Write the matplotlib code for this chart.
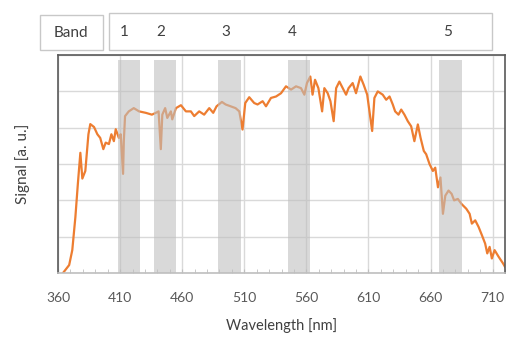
import matplotlib.pyplot as plt
from matplotlib.patches import Rectangle
from matplotlib.ticker import MultipleLocator, FixedLocator
import matplotlib.transforms as mtransforms

plt.rcParams['font.family'] = ['Lato', 'DejaVu Sans']

# spectrum (nm, arbitrary units)
wavelength = [364, 369, 371.5, 374, 376, 378, 379.6, 382, 384.5, 386, 389, 391.7, 394,
              396.5, 398.4, 401, 403, 405, 406.5, 409, 410.5, 412.4, 413, 414, 417, 421,
              425.3, 430.7, 435.6, 438.8, 441, 442.8, 444, 446.3, 448, 450.9, 452, 455,
              459, 463, 467, 469.7, 473.7, 477.7, 481.8, 485, 487.7, 492, 495, 499, 503,
              506, 508.6, 510.8, 514, 518, 520.7, 524.8, 527.5, 531.5, 535.6, 539.6,
              543.6, 547.7, 551.7, 555.7, 558.4, 560.5, 563.2, 565, 567, 569.7, 572.7,
              574.5, 577.2, 579.4, 582, 584, 586.6, 589.3, 592, 594, 597.3, 600, 603.5,
              606.2, 609, 613, 614.8, 617.5, 621.5, 624.3, 627, 629.6, 631.5, 634.2,
              636.4, 639, 641.7, 644.4, 647, 649.8, 652, 654.6, 656.5, 659.2, 661.9,
              663.8, 666, 668, 670, 671.9, 674.5, 677, 679, 682, 685, 688.8, 691.5,
              693.3, 696, 698.7, 701.4, 704, 705.7, 707.6, 709.4, 711.6, 714.8, 718.3, 720]
signal = [0.0, 0.22, 0.63, 1.54, 2.46, 3.31, 2.60, 2.81, 3.82, 4.10, 4.02, 3.82, 3.72,
          3.41, 3.59, 3.55, 3.82, 3.63, 3.96, 3.72, 3.82, 2.73, 3.63, 4.32, 4.45, 4.54,
          4.45, 4.41, 4.36, 4.41, 4.45, 3.41, 4.36, 4.54, 4.27, 4.45, 4.23, 4.54,
          4.62, 4.45, 4.45, 4.32, 4.45, 4.36, 4.54, 4.41, 4.59, 4.71, 4.64, 4.59, 4.54,
          4.45, 3.95, 4.68, 4.84, 4.68, 4.64, 4.73, 4.59, 4.82, 4.86, 4.95,
          5.14, 5.05, 5.14, 5.09, 4.91, 5.23, 5.41, 4.91, 5.32, 5.09, 4.45,
          5.09, 4.95, 4.73, 4.18, 5.09, 5.27, 5.09, 4.91, 5.09, 5.23, 4.95, 5.41,
          5.18, 4.91, 3.91, 4.82, 5.00, 4.91, 4.77, 4.86, 4.64, 4.45, 4.36,
          4.50, 4.36, 4.18, 4.04, 3.63, 4.09, 3.72, 3.36, 3.27, 3.00, 2.81,
          2.90, 2.36, 2.63, 1.63, 2.13, 2.27, 2.18, 2.00, 2.04, 1.90, 1.77, 1.63,
          1.36, 1.45, 1.27, 1.04, 0.81, 0.54, 0.72, 0.40, 0.63, 0.45, 0.27, 0.17]

x_ticks = [360, 410, 460, 510, 560, 610, 660, 710]

band_names = ['1', '2', '3', '4', '5']
band_start = [408, 437, 489, 545, 667]
band_end = [426, 455, 507, 563, 685]
band_label_x = [413, 443, 495, 549, 674]

fig = plt.figure(figsize=(5.07, 3.40), dpi=100)
ax = fig.add_axes([0.1144, 0.197, 0.8817, 0.641])

ax.plot(wavelength, signal, color='#ED7D31', lw=1.6, zorder=2)
for s, e in zip(band_start, band_end):
    ax.axvspan(s, e, ymin=0, ymax=0.978, color='#bfbfbf', alpha=0.59, lw=0, zorder=3)

ax.set_xlim(360, 720)
ax.set_ylim(0, 6)
ax.xaxis.set_major_locator(FixedLocator(x_ticks))
ax.xaxis.set_minor_locator(MultipleLocator(10))
ax.yaxis.set_major_locator(MultipleLocator(1))
ax.set_yticklabels([])
ax.grid(True, which='major', color='#d9d9d9', lw=1, zorder=0)
ax.set_axisbelow(True)
ax.tick_params(axis='x', which='both', direction='in', length=3, color='#bfbfbf',
               labelsize=10, labelcolor='#595959', pad=14)
ax.tick_params(axis='y', length=0)
for sp in ax.spines.values():
    sp.set_color('#595959')
    sp.set_linewidth(1.2)
ax.spines['bottom'].set_color('#bfbfbf')

ax.set_xlabel('Wavelength [nm]', fontsize=10.5, color='#404040', labelpad=10)
ax.set_ylabel('Signal [a. u.]', fontsize=11, color='#404040', labelpad=17)

# band header boxes
fig.patches.append(Rectangle((0.0789, 0.853), 0.1243, 0.103, transform=fig.transFigure,
                             fill=False, edgecolor='#c8c8c8', lw=1))
fig.patches.append(Rectangle((0.215, 0.853), 0.755, 0.109, transform=fig.transFigure,
                             fill=False, edgecolor='#c8c8c8', lw=1))
fig.text(0.140, 0.903, 'Band', ha='center', va='center', fontsize=11, color='#404040')
trans = mtransforms.blended_transform_factory(ax.transData, fig.transFigure)
for name, x in zip(band_names, band_label_x):
    ax.text(x, 0.906, name, transform=trans, ha='center', va='center',
            fontsize=11, color='#404040', clip_on=False)

fig.savefig('out.png', dpi=100)
